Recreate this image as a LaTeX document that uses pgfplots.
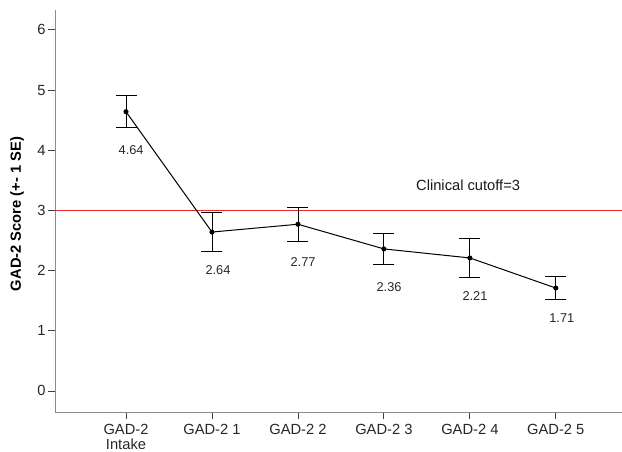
\documentclass[border=0pt]{standalone}
\usepackage{pgfplots}
\pgfplotsset{compat=1.18}
\usepackage{fontspec}
\setmainfont{Liberation Sans}
\begin{document}
\begin{tikzpicture}
\begin{axis}[
  scale only axis, width=567bp, height=402bp,
  xmin=-0.826, xmax=5.77, ymin=-0.35, ymax=6.33,
  axis x line=bottom, axis y line=left,
  axis line style={-, draw=black!45, line width=0.9bp},
  xtick={0,...,5},
  xticklabels={{GAD-2\\Intake},{GAD-2 1},{GAD-2 2},{GAD-2 3},{GAD-2 4},{GAD-2 5}},
  ytick={0,...,6},
  tick align=outside, major tick length=7bp,
  tick style={draw=black!75, line width=0.8bp},
  /pgf/number format/assume math mode=true,
  x tick label style={font=\fontsize{14.7bp}{14.5bp}\selectfont, text=black!85, align=center, yshift=-2bp},
  y tick label style={font=\fontsize{14.7bp}{15bp}\selectfont, text=black!85, xshift=1bp},
  ylabel={\bfseries GAD-2 Score (+- 1 SE)},
  ylabel style={at={([xshift=-38bp]axis description cs:0,0.4925)}, anchor=center, font=\fontsize{14.7bp}{15bp}\selectfont},
  clip=false,
]
\coordinate (sw) at (rel axis cs:0,0);
\coordinate (ne) at (rel axis cs:1,1);
\addplot[draw={rgb,255:red,235;green,40;blue,40}, line width=1.6bp, forget plot] coordinates {(-0.826,3) (5.77,3)};
\addplot[black, line width=1bp, mark=*, mark size=2bp,
  error bars/.cd, y dir=both, y explicit,
  error bar style={line width=0.8bp, black},
  error mark options={rotate=90, mark size=10.5bp, line width=0.8bp, black}]
  table[x=x, y=y, y error=e] {
x y e
0 4.64 0.265
1 2.64 0.325
2 2.77 0.28
3 2.36 0.25
4 2.21 0.32
5 1.71 0.19
};
\begin{scope}[every node/.style={font=\fontsize{12.8bp}{13bp}\selectfont, text=black!85}]
\node at (axis cs:0.06,4.01) {4.64};
\node at (axis cs:1.07,2.01) {2.64};
\node at (axis cs:2.06,2.14) {2.77};
\node at (axis cs:3.06,1.73) {2.36};
\node at (axis cs:4.06,1.58) {2.21};
\node at (axis cs:5.07,1.21) {1.71};
\end{scope}
\node[font=\fontsize{14.7bp}{15bp}\selectfont, text=black!90] at (axis cs:3.98,3.42) {Clinical cutoff=3};
\end{axis}
\pgfresetboundingbox
\path ([shift={(-55bp,-40bp)}]sw) rectangle ([shift={(0bp,10bp)}]ne);
\end{tikzpicture}
\end{document}
